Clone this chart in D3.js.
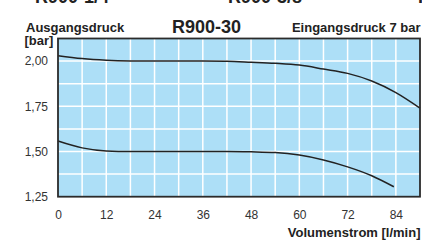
<!DOCTYPE html>
<html><head><meta charset="utf-8">
<script src="https://cdn.jsdelivr.net/npm/d3@7"></script>
<style>html,body{margin:0;padding:0;background:#fff;}svg{display:block;font-family:"Liberation Sans",Arial,sans-serif;}</style>
</head><body>
<script>
const xTicks = [0, 12, 24, 36, 48, 60, 72, 84];
const yTicks = [1.25, 1.5, 1.75, 2.0];
const yTickLabels = ["1,25", "1,50", "1,75", "2,00"];
const upperX = [0, 6, 12, 18, 24, 30, 36, 42, 48, 54, 60, 66, 72, 78, 84, 90];
const upperY = [2.03, 2.014, 2.005, 2.001, 2.0, 2.0, 2.0, 1.999, 1.994, 1.988, 1.978, 1.956, 1.932, 1.89, 1.826, 1.74];
const lowerX = [0, 6, 12, 18, 24, 30, 36, 42, 48, 54, 60, 66, 72, 78, 83.5];
const lowerY = [1.558, 1.52, 1.503, 1.5, 1.5, 1.5, 1.5, 1.5, 1.498, 1.494, 1.48, 1.453, 1.415, 1.366, 1.305];
const title = "R900-30";
const yTitle1 = "Ausgangsdruck", yTitle2 = "[bar]";
const rightTitle = "Eingangsdruck 7 bar";
const xTitle = "Volumenstrom [l/min]";
const topCut = [["R900-1/4", 35], ["R900-3/8", 228], ["R900-1/2", 418]];

const W = 422, H = 248;
const L = 58, R = 420, T = 38.5, B = 196.7;
const svg = d3.select("body").append("svg").attr("width", W).attr("height", H);
const x = d3.scaleLinear().domain([0, 90]).range([L, R]);
const y = d3.scaleLinear().domain([1.25, 2.125]).range([B, T]);

svg.append("rect").attr("x", L).attr("y", T).attr("width", R - L).attr("height", B - T).attr("fill", "#addff7");
// grid
const gx = d3.range(6, 90, 6), gy = d3.range(1.375, 2.125, 0.125);
svg.append("g").selectAll("line").data(gx).join("line")
  .attr("x1", d => x(d)).attr("x2", d => x(d)).attr("y1", T).attr("y2", B)
  .attr("stroke", "#fff").attr("stroke-width", 1.5);
svg.append("g").selectAll("line").data(gy).join("line")
  .attr("y1", d => y(d)).attr("y2", d => y(d)).attr("x1", L).attr("x2", R)
  .attr("stroke", "#fff").attr("stroke-width", 1.5);

const line = d3.line().x(d => x(d[0])).y(d => y(d[1])).curve(d3.curveMonotoneX);
svg.append("path").datum(upperX.map((v, i) => [v, upperY[i]])).attr("d", line)
  .attr("fill", "none").attr("stroke", "#222").attr("stroke-width", 1.5);
svg.append("path").datum(lowerX.map((v, i) => [v, lowerY[i]])).attr("d", line)
  .attr("fill", "none").attr("stroke", "#222").attr("stroke-width", 1.5);

svg.append("rect").attr("x", L).attr("y", T).attr("width", R - L).attr("height", B - T)
  .attr("fill", "none").attr("stroke", "#2b2b2b").attr("stroke-width", 1.8);

// axes
const xAxis = d3.axisBottom(x).tickValues(xTicks).tickSize(0).tickPadding(14).tickFormat(d => d);
const gxa = svg.append("g").attr("transform", `translate(0,${B})`).call(xAxis);
gxa.select(".domain").remove();
gxa.selectAll("text").attr("font-size", 12).attr("fill", "#333").attr("font-family", "Liberation Sans, Arial, sans-serif");
const yAxis = d3.axisLeft(y).tickValues(yTicks).tickSize(0).tickPadding(10).tickFormat((d, i) => yTickLabels[i]);
const gya = svg.append("g").attr("transform", `translate(${L},0)`).call(yAxis);
gya.select(".domain").remove();
gya.selectAll("text").attr("font-size", 12).attr("fill", "#333").attr("font-family", "Liberation Sans, Arial, sans-serif");

// titles
const bold = (t, xx, yy, size, anchor) => svg.append("text").text(t).attr("x", xx).attr("y", yy)
  .attr("font-size", size).attr("font-weight", "bold").attr("fill", "#222").attr("text-anchor", anchor || "start");
bold(title, 172, 33, 18);
bold(yTitle1, 26, 32, 13);
bold(yTitle2, 24.5, 45, 13);
bold(rightTitle, 420.5, 32, 13, "end");
bold(xTitle, 420.5, 237, 13, "end");
topCut.forEach(d => bold(d[0], d[1], 2.7, 18));
</script>
</body></html>
